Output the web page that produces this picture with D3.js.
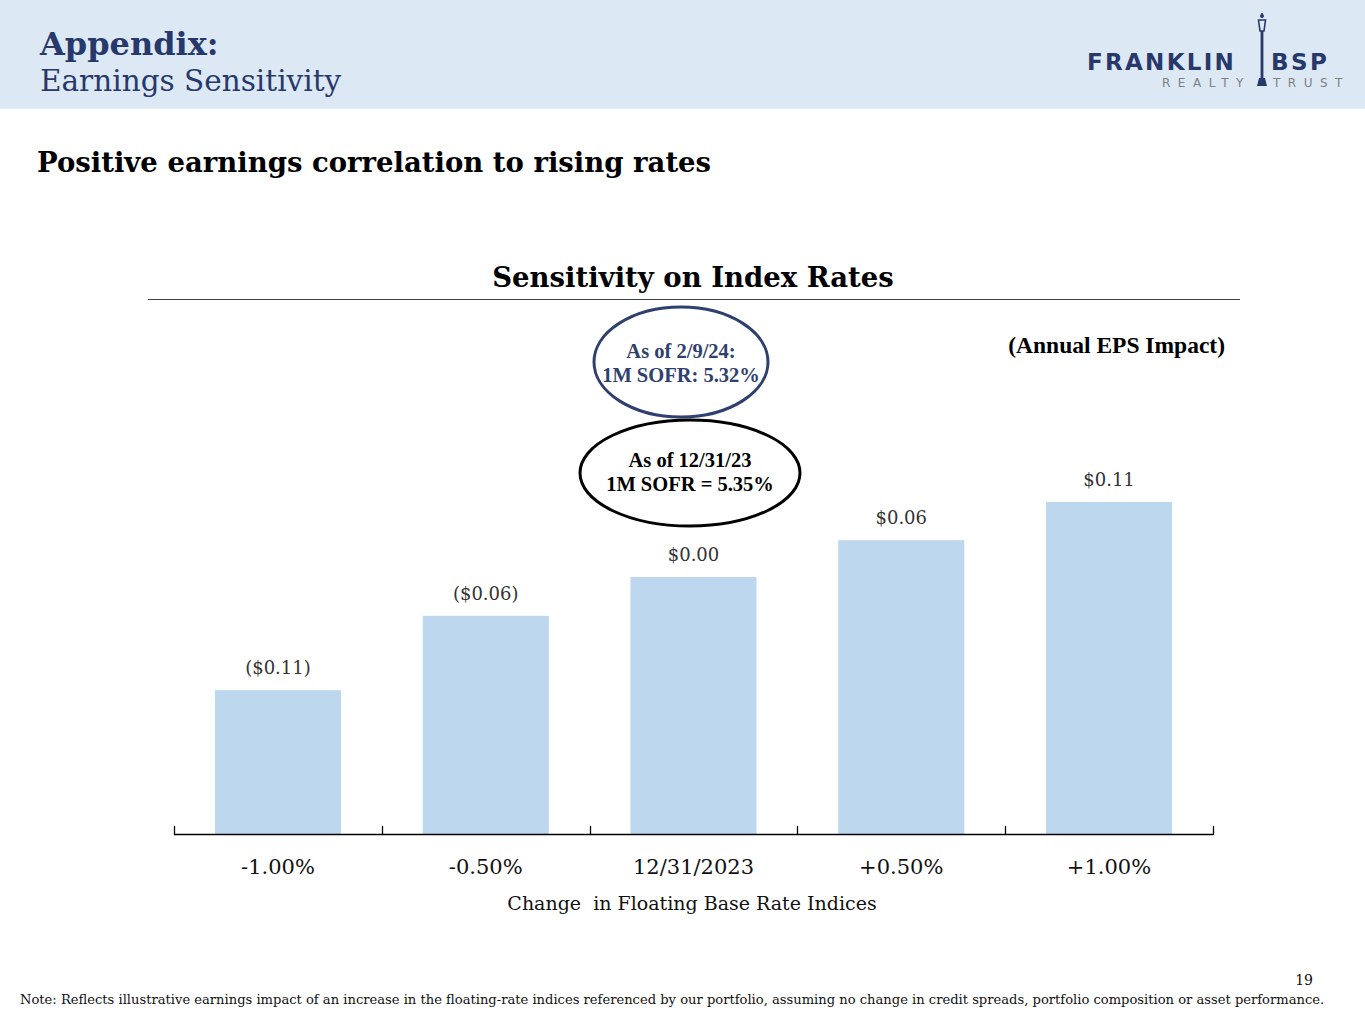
<!DOCTYPE html>
<html>
<head>
<meta charset="utf-8">
<script src="https://cdn.jsdelivr.net/npm/d3@7"></script>
<style>
  body { margin: 0; background: #fff; }
  svg { display: block; }
</style>
</head>
<body>
<svg id="slide" width="1365" height="1024"></svg>
<script>
// data
const categories = ['-1.00%', '-0.50%', '12/31/2023', '+0.50%', '+1.00%']
const epsLabels = ['($0.11)', '($0.06)', '$0.00', '$0.06', '$0.11']
// bar heights as drawn (annual EPS impact, $)
const barValues = [-0.166, -0.057, 0.0, 0.054, 0.11]
const yDomain = [-0.377, 0.11]

const serif = "'DejaVu Serif', 'Liberation Serif', serif"
const serif2 = "'Liberation Serif', serif"
const navy = '#27396b'

const svg = d3.select('#slide')

// header band
svg.append('rect').attr('x', 0).attr('y', 0).attr('width', 1365).attr('height', 108).attr('fill', '#dde8f5')
svg.append('line').attr('x1', 0).attr('x2', 1365).attr('y1', 108.5).attr('y2', 108.5).attr('stroke', '#e9eef4')

svg.append('text').attr('x', 40).attr('y', 55)
  .attr('font-family', serif).attr('font-weight', 'bold').attr('font-size', 32)
  .attr('fill', navy).text('Appendix:')
svg.append('text').attr('x', 40).attr('y', 91)
  .attr('font-family', serif).attr('font-size', 29.5)
  .attr('fill', navy).text('Earnings Sensitivity')

// logo
const logo = svg.append('g')
logo.append('text').attr('x', 1087).attr('y', 70)
  .attr('font-family', "'DejaVu Sans', sans-serif").attr('font-weight', 'bold').attr('font-size', 23)
  .attr('letter-spacing', 2.3).attr('fill', navy).text('FRANKLIN')
logo.append('text').attr('x', 1271).attr('y', 70)
  .attr('font-family', "'DejaVu Sans', sans-serif").attr('font-weight', 'bold').attr('font-size', 23)
  .attr('letter-spacing', 2.5).attr('fill', navy).text('BSP')
logo.append('text').attr('x', 1162).attr('y', 87)
  .attr('font-family', "'DejaVu Sans', sans-serif").attr('font-size', 12)
  .attr('letter-spacing', 7.5).attr('fill', '#808080').text('REALTY')
logo.append('text').attr('x', 1273).attr('y', 87)
  .attr('font-family', "'DejaVu Sans', sans-serif").attr('font-size', 12)
  .attr('letter-spacing', 7.5).attr('fill', '#808080').text('TRUST')
// lamp post
logo.append('path')
  .attr('d', 'M1262,13 L1262,17 M1258.5,20 L1265.5,20 L1264,31 L1260,31 Z')
  .attr('fill', 'none').attr('stroke', navy).attr('stroke-width', 1.6)
logo.append('rect').attr('x', 1260.6).attr('y', 31).attr('width', 2.8).attr('height', 49).attr('fill', navy)
logo.append('path').attr('d', 'M1257,86 L1259,78 L1265,78 L1267,86 Z').attr('fill', navy)
logo.append('circle').attr('cx', 1262).attr('cy', 16).attr('r', 2).attr('fill', navy)

// slide subtitle
svg.append('text').attr('x', 37).attr('y', 172)
  .attr('font-family', serif).attr('font-weight', 'bold').attr('font-size', 27.5)
  .attr('fill', '#000').text('Positive earnings correlation to rising rates')

// chart title + rule
svg.append('text').attr('x', 693).attr('y', 287).attr('text-anchor', 'middle')
  .attr('font-family', serif).attr('font-weight', 'bold').attr('font-size', 27.5)
  .attr('fill', '#000').text('Sensitivity on Index Rates')
svg.append('line').attr('x1', 148).attr('x2', 1240).attr('y1', 299.5).attr('y2', 299.5)
  .attr('stroke', '#404040').attr('stroke-width', 1.2)

svg.append('text').attr('x', 1225).attr('y', 353).attr('text-anchor', 'end')
  .attr('font-family', serif2).attr('font-weight', 'bold').attr('font-size', 23.5)
  .attr('fill', '#000').text('(Annual EPS Impact)')

// scales
const xScale = d3.scaleBand()
  .domain(categories)
  .range([174, 1213])
  .paddingInner(0.393)
  .paddingOuter(0.197)

const yScale = d3.scaleLinear()
  .domain(yDomain)
  .range([834, 502])

const chart = svg.append('g')

chart.selectAll('.bar')
  .data(barValues)
  .enter()
  .append('rect')
  .attr('class', 'bar')
  .attr('x', (d, i) => xScale(categories[i]))
  .attr('y', (d) => yScale(d))
  .attr('width', xScale.bandwidth())
  .attr('height', (d) => yScale(yDomain[0]) - yScale(d))
  .attr('fill', '#bdd7ee')

chart.selectAll('.bar-value')
  .data(barValues)
  .enter()
  .append('text')
  .attr('class', 'bar-value')
  .attr('x', (d, i) => xScale(categories[i]) + xScale.bandwidth() / 2)
  .attr('y', (d) => yScale(d) - 16)
  .attr('text-anchor', 'middle')
  .attr('font-family', serif).attr('font-size', 18)
  .attr('fill', '#333')
  .text((d, i) => epsLabels[i])

// x axis: line with upward ticks at band edges
const edges = categories.map((c) => xScale(c) - xScale.step() * xScale.paddingInner() / 2)
edges[0] = 174
edges.push(1213)
const axis = chart.append('g').attr('class', 'bar-xaxis')
axis.append('line').attr('x1', 174).attr('x2', 1213).attr('y1', 834.5).attr('y2', 834.5)
  .attr('stroke', '#000').attr('stroke-width', 1.3)
axis.selectAll('.tick')
  .data(edges)
  .enter()
  .append('line')
  .attr('x1', (d) => Math.round(d) + 0.5).attr('x2', (d) => Math.round(d) + 0.5)
  .attr('y1', 835).attr('y2', 826)
  .attr('stroke', '#000').attr('stroke-width', 1.3)

axis.selectAll('.cat')
  .data(categories)
  .enter()
  .append('text')
  .attr('x', (d) => xScale(d) + xScale.bandwidth() / 2)
  .attr('y', 874)
  .attr('text-anchor', 'middle')
  .attr('font-family', serif).attr('font-size', 21)
  .attr('fill', '#111')
  .text((d) => d)

svg.append('text').attr('x', 692).attr('y', 910).attr('text-anchor', 'middle')
  .attr('font-family', serif).attr('font-size', 19)
  .attr('fill', '#111').attr('xml:space', 'preserve')
  .text('Change  in Floating Base Rate Indices')

// callout ellipses
const callouts = [
  {cx: 681, cy: 362, rx: 87, ry: 55, color: '#2f3f6e', textColor: '#30406e', lines: ['As of 2/9/24:', '1M SOFR: 5.32%'], y0: 358},
  {cx: 690, cy: 473, rx: 110, ry: 53, color: '#000', textColor: '#000', lines: ['As of 12/31/23', '1M SOFR = 5.35%'], y0: 467}
]
callouts.forEach((c) => {
  svg.append('ellipse').attr('cx', c.cx).attr('cy', c.cy).attr('rx', c.rx).attr('ry', c.ry)
    .attr('fill', 'none').attr('stroke', c.color).attr('stroke-width', 3)
  c.lines.forEach((l, i) => {
    svg.append('text').attr('x', c.cx).attr('y', c.y0 + i * 24).attr('text-anchor', 'middle')
      .attr('font-family', serif2).attr('font-weight', 'bold').attr('font-size', 20.5)
      .attr('fill', c.textColor).text(l)
  })
})

// footer
svg.append('text').attr('x', 1313).attr('y', 985).attr('text-anchor', 'end')
  .attr('font-family', serif).attr('font-size', 14).attr('fill', '#111').text('19')
svg.append('text').attr('x', 20).attr('y', 1004)
  .attr('font-family', serif).attr('font-size', 13.1).attr('fill', '#111')
  .text('Note: Reflects illustrative earnings impact of an increase in the floating-rate indices referenced by our portfolio, assuming no change in credit spreads, portfolio composition or asset performance.')
</script>
</body>
</html>
